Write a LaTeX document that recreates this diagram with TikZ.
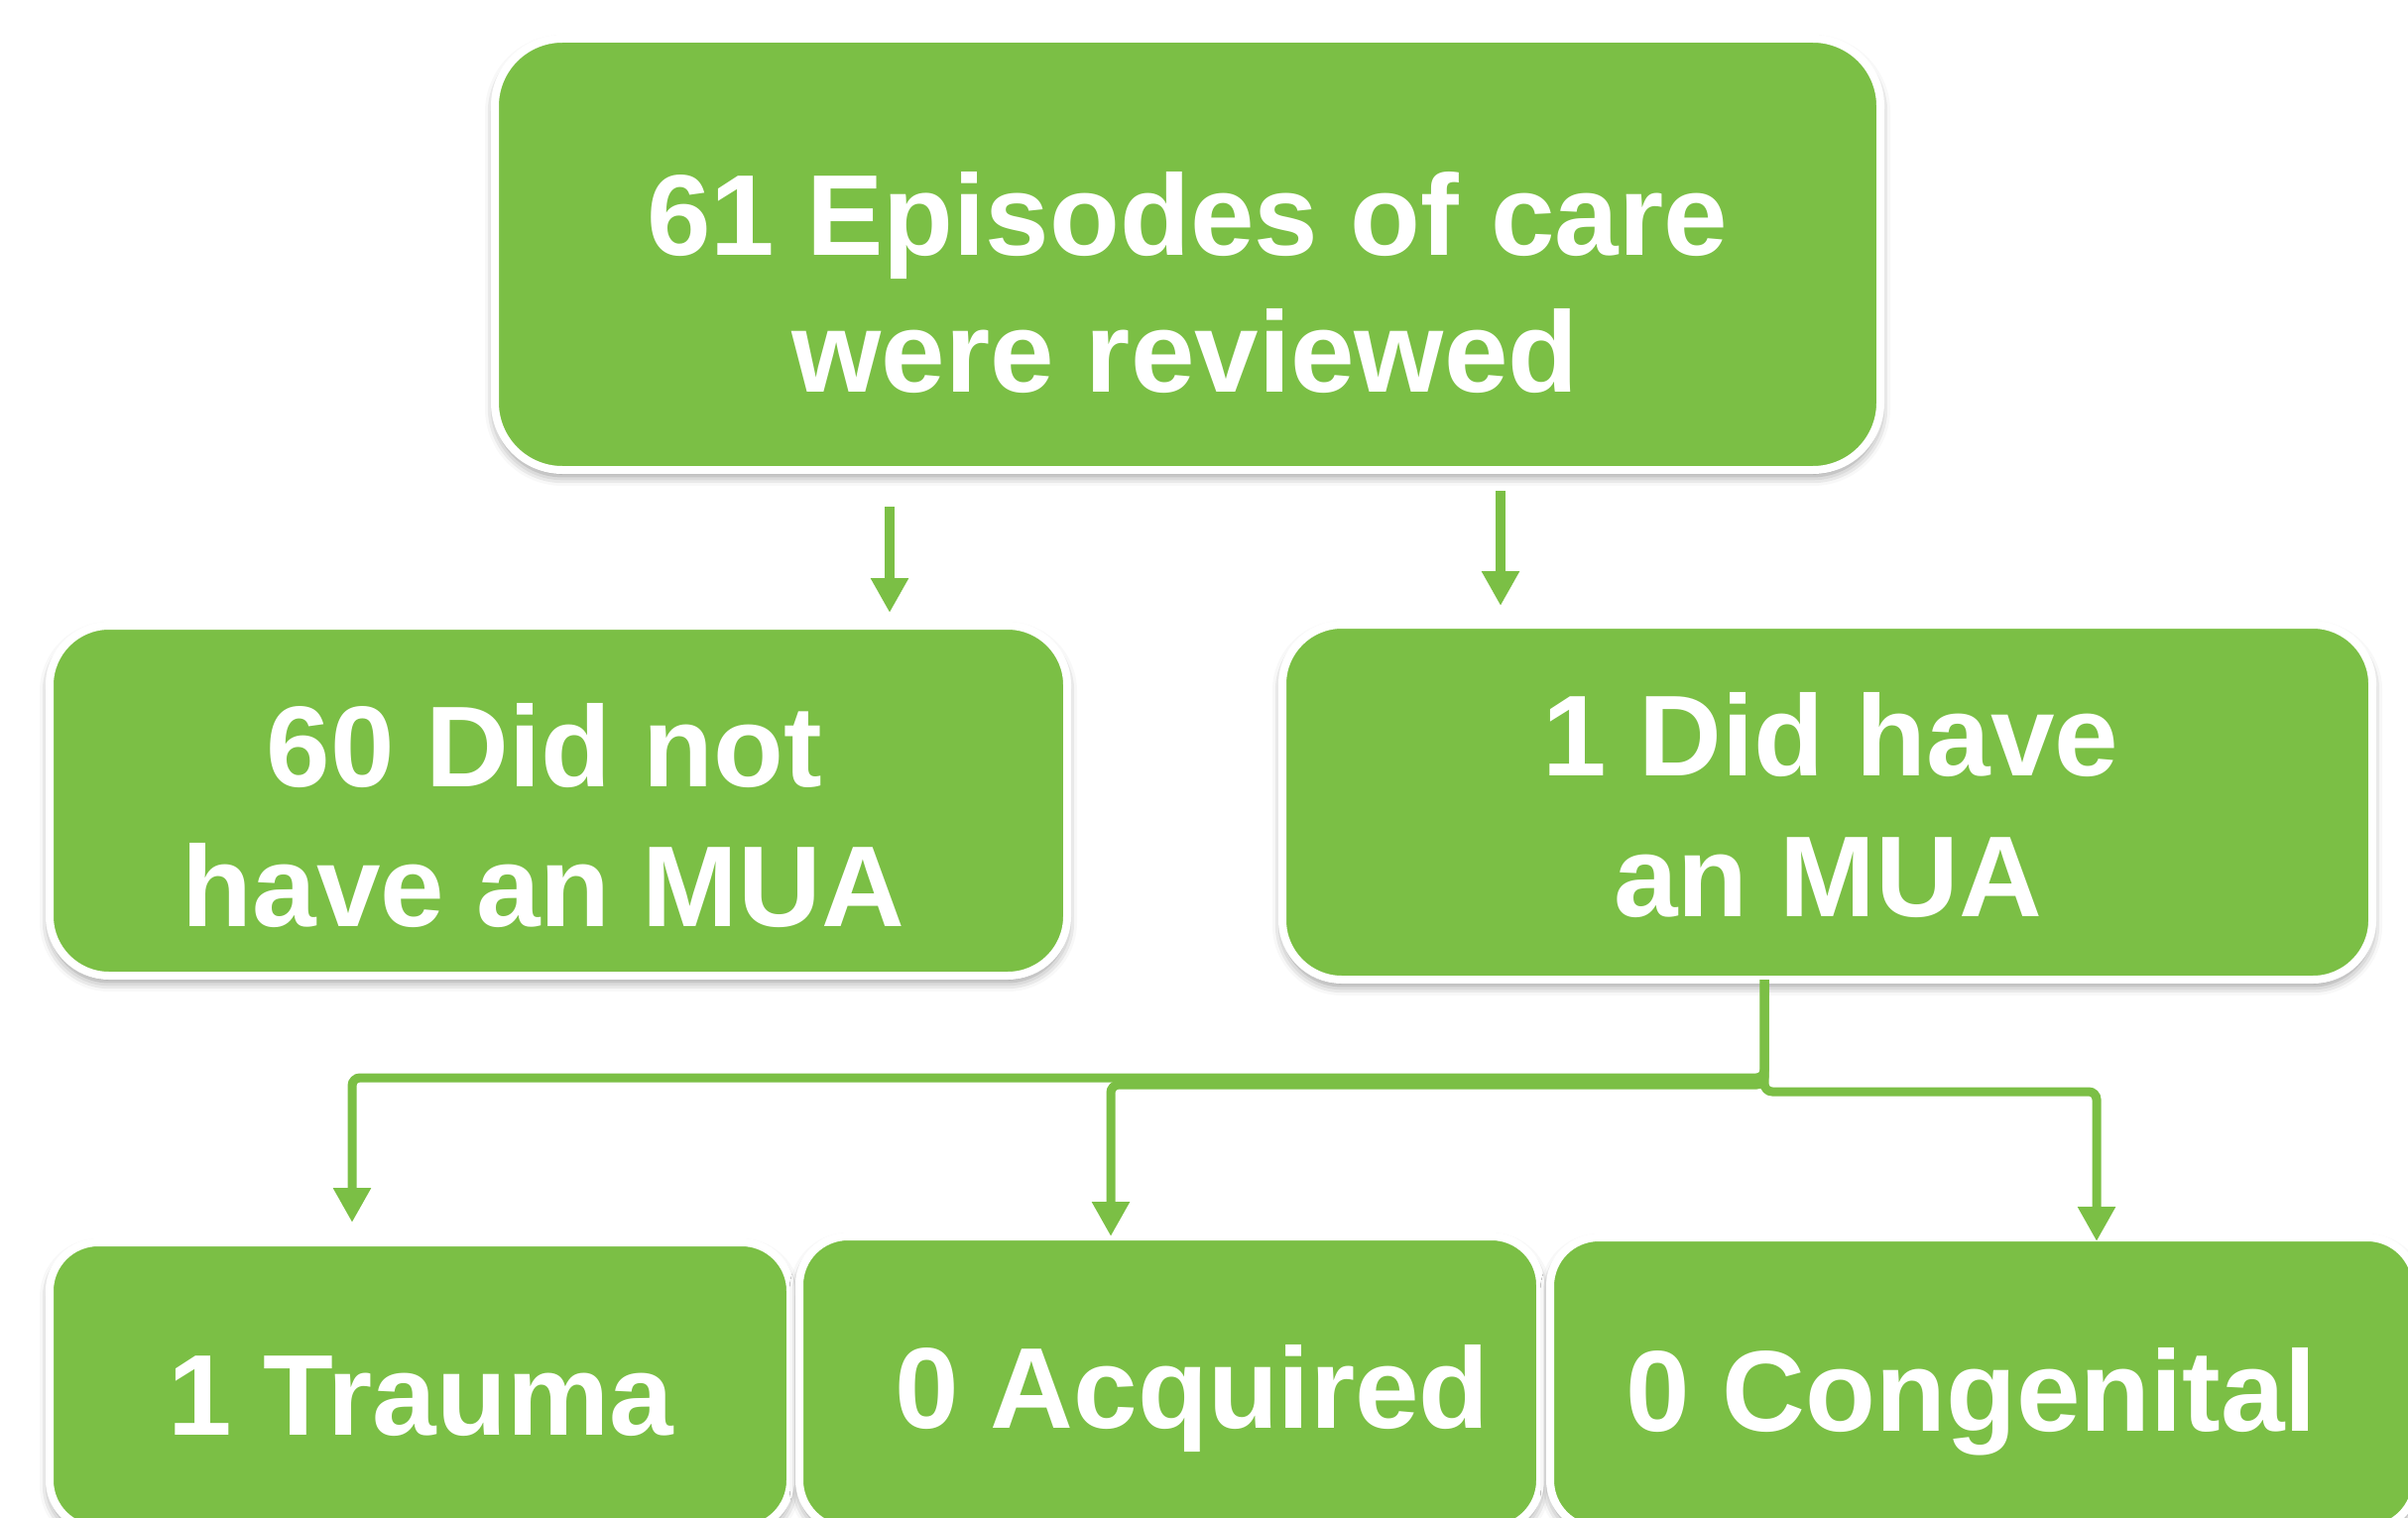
\documentclass[tikz,border=0pt]{standalone}
\usepackage{fontspec}
\setmainfont{Liberation Sans}
\usetikzlibrary{arrows.meta,shadows.blur}
\definecolor{boxgreen}{RGB}{123,191,69}
\begin{document}
\begin{tikzpicture}[x=0.5pt,y=-0.5pt,
  box/.style={rectangle, rounded corners=#1, fill=boxgreen, draw=white, line width=4pt,
    inner sep=0pt, outer sep=0pt,
    blur shadow={shadow xshift=0pt, shadow yshift=-3pt, shadow blur radius=5pt, shadow opacity=45}},
  txt/.style={text=white, font=\fontsize{58}{70}\selectfont\bfseries, inner sep=0pt, anchor=base},
  arr/.style={draw=boxgreen, line width=5pt, -{Triangle[width=18pt,length=17.5pt]}},
  elbow/.style={arr, rounded corners=4pt, line width=4.5pt}
]
\useasboundingbox (0,0) rectangle (2428,1530);

% boxes
\node[box=34pt, minimum width=698.5pt, minimum height=217.5pt] (top) at (1197.5,256.5) {};
\node[box=30pt, minimum width=513pt, minimum height=176.5pt] (mid1) at (563,807.5) {};
\node[box=30pt, minimum width=549.5pt, minimum height=179pt] (mid2) at (1842.5,809) {};
\node[box=24.5pt, minimum width=373.5pt, minimum height=144.5pt] (trauma) at (423.5,1397.5) {};
\node[box=24.5pt, minimum width=373.5pt, minimum height=147.5pt] (acq) at (1179.5,1394.5) {};
\node[box=24.5pt, minimum width=436.5pt, minimum height=147pt] (cong) at (1999.5,1395) {};

% arrows from top box
\coordinate (a1) at (897,511);
\coordinate (a2) at (1513,495);
\draw[arr, shorten >=6.5pt] (a1) -- (a1 |- mid1.north);
\draw[arr, shorten >=9.5pt] (a2) -- (a2 |- mid2.north);

% elbow connectors
\coordinate (src) at ([xshift=-31.75pt]mid2.south);
\coordinate (c1) at (355,1087);
\coordinate (c2) at (1120,1094);
\coordinate (c3) at (2114,1101);
\draw[elbow, shorten >=10pt] (src) |- (c1) -- (c1 |- trauma.north);
\draw[elbow] (src) |- (c2) -- (c2 |- acq.north);
\draw[elbow, shorten >=-2pt] (src) |- (c3) -- (c3 |- cong.north);

% texts
\node[txt] (t1a) at (1197,257) {61 Episodes of care};
\node[txt] (t1b) at (1195,395) {were reviewed};
\node[txt] (t2a) at (549,793) {60 Did not};
\node[txt] (t2b) at (548,934) {have an MUA};
\node[txt] (t3a) at (1846,782) {1 Did have};
\node[txt] (t3b) at (1843,924) {an MUA};
\node[txt] (t4) at (424,1447) {1 Trauma};
\node[txt] (t5) at (1202,1440) {0 Acquired};
\node[txt] (t6) at (1988,1443) {0 Congenital};
\end{tikzpicture}
\end{document}
